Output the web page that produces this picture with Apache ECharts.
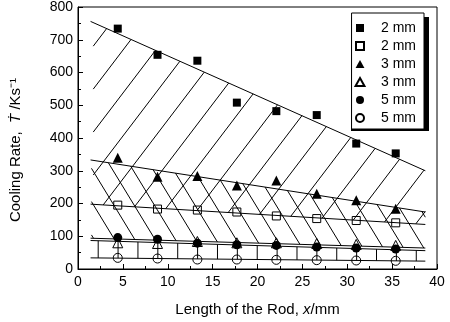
<!DOCTYPE html>
<html>
<head>
<meta charset="utf-8">
<script src="https://cdn.jsdelivr.net/npm/echarts@6/dist/echarts.min.js"></script>
<style>
  html, body { margin: 0; padding: 0; background: #fff; }
  #chart { width: 450px; height: 322px; }
</style>
</head>
<body>
<div id="chart"></div>
<script>
// rod length positions (mm)
const xPos = [4.43, 8.86, 13.3, 17.7, 22.1, 26.6, 31.0, 35.4];

// cooling rates, K/s
const sq2Filled = [734, 654, 636, 508, 482, 470, 383, 353];
const sq2Open = [195, 183, 180, 174, 162, 154, 148, 141];
const tri3Filled = [340, 282, 284, 255, 270, 230, 210, 184];
const tri3Open = [80, 78, 84, 80, 80, 78, 75, 72];
const cir5Filled = [96, 91, 79, 74, 72, 67, 64, 61];
const cir5Open = [34, 32, 29, 29, 28, 27, 26, 25];

const legendLabels = ['2 mm', '2 mm', '3 mm', '3 mm', '5 mm', '5 mm'];

// fitted trend lines, [start, end]
const fitSq2Filled = [[1.4, 756], [38.7, 300]];
const fitTri3Filled = [[1.4, 333], [38.7, 174]];
const fitSq2Open = [[1.4, 198], [38.7, 136]];
const fitCir5Filled = [[1.4, 94], [38.7, 64]];
const fitTri3Open = [[1.4, 87], [38.7, 56]];
const fitCir5Open = [[1.4, 34], [38.7, 24]];

function lineFn(seg) {
  const [[x0, y0], [x1, y1]] = seg;
  const m = (y1 - y0) / (x1 - x0);
  return { m, at: x => y0 + m * (x - x0) };
}

// slanted hatch strokes between two trend lines
function hatch(top, bottom, slope, anchors, onTop, xmin, xmax) {
  const T = lineFn(top), B = lineFn(bottom);
  const segs = [];
  anchors.forEach(xa => {
    const ya = onTop ? T.at(xa) : B.at(xa);
    const xt = xa + (T.at(xa) - ya) / (slope - T.m);
    const xb = xa + (B.at(xa) - ya) / (slope - B.m);
    const lo = Math.max(Math.min(xt, xb), xmin);
    const hi = Math.min(Math.max(xt, xb), xmax);
    if (lo >= hi) return;
    segs.push([lo, ya + slope * (lo - xa), hi, ya + slope * (hi - xa)]);
  });
  return segs;
}

const range = (a, step, n) => Array.from({ length: n }, (_, k) => a + step * k);

const hatchSlash = hatch(fitSq2Filled, fitSq2Open, 36, range(0.47, 2.72, 17), true, 1.7, 38.7);
const hatchBack = hatch(fitTri3Filled, fitCir5Filled, -45, range(-0.57, 2.3, 20), false, 1.5, 38.7);
const vt = lineFn(fitTri3Open), vb = lineFn(fitCir5Open);
const hatchVert = range(2.25, 2.215, 17).map(x => [x, vt.at(x), x, vb.at(x)]);

const chart = echarts.init(document.getElementById('chart'));
const font = 'Liberation Sans, Arial, sans-serif';

const openStyle = { color: 'rgba(0,0,0,0)', borderColor: '#000', borderWidth: 1, opacity: 1 };
const filledStyle = { color: '#000', opacity: 1 };

const SQ = 'path://M0,0H10V10H0Z';
const TRI = 'path://M5,0L10,9H0Z';

const scatterDefs = [
  { data: sq2Filled, symbol: 'rect', icon: SQ, size: 8, style: filledStyle },
  { data: sq2Open, symbol: 'rect', icon: SQ, size: 8, style: openStyle },
  { data: tri3Filled, symbol: 'triangle', icon: TRI, size: 10, style: filledStyle },
  { data: tri3Open, symbol: 'triangle', icon: TRI, size: 10, style: openStyle },
  { data: cir5Filled, symbol: 'circle', icon: 'circle', size: 9, style: filledStyle },
  { data: cir5Open, symbol: 'circle', icon: 'circle', size: 9, style: openStyle },
];

const scatterSeries = scatterDefs.map((d, i) => ({
  name: legendLabels[i] + '#' + i,
  type: 'scatter',
  symbol: d.symbol,
  symbolSize: d.size,
  itemStyle: d.style,
  z: 5,
  data: d.data.map((v, j) => [xPos[j], v]),
}));

const fitSeries = [fitSq2Filled, fitTri3Filled, fitSq2Open, fitCir5Filled, fitTri3Open, fitCir5Open]
  .map(seg => ({
    type: 'line',
    data: seg,
    symbol: 'none',
    lineStyle: { color: '#000', width: 1 },
    z: 3,
    silent: true,
  }));

const hatchSeries = {
  type: 'custom',
  clip: true,
  silent: true,
  z: 2,
  encode: { x: [0, 2], y: [1, 3] },
  data: hatchSlash.concat(hatchBack, hatchVert),
  renderItem: (params, api) => {
    const p0 = api.coord([api.value(0), api.value(1)]);
    const p1 = api.coord([api.value(2), api.value(3)]);
    return {
      type: 'line',
      shape: { x1: p0[0], y1: p0[1], x2: p1[0], y2: p1[1] },
      style: { stroke: '#000', lineWidth: 1 },
    };
  },
};

chart.setOption({
  backgroundColor: '#fff',
  animation: false,
  textStyle: { fontFamily: font },
  grid: { left: 77, right: 13, top: 7, bottom: 49, show: true, borderColor: '#000', borderWidth: 1 },
  // drop shadow behind the legend box
  graphic: [{
    type: 'rect', left: 351, top: 17, z: 0, zlevel: 0,
    shape: { width: 78, height: 114 },
    style: { fill: '#000' },
  }],
  legend: {
    right: 26, top: 13,
    orient: 'vertical',
    itemWidth: 32, itemHeight: 8, itemGap: 4,
    symbolKeepAspect: true,
    padding: [8, 8, 4, 3],
    backgroundColor: '#fff',
    borderColor: '#000', borderWidth: 1,
    z: 10,
    textStyle: { fontSize: 14, color: '#000', fontFamily: font, lineHeight: 14 },
    formatter: name => name.split('#')[0],
    data: scatterSeries.map((s, i) => ({ name: s.name, icon: scatterDefs[i].icon })),
  },
  xAxis: {
    type: 'value', min: 0, max: 40, interval: 5,
    name: 'Length of the Rod, {it|x}/mm',
    nameLocation: 'middle', nameGap: 33,
    nameTextStyle: { fontSize: 15, color: '#000', fontFamily: font,
      rich: { it: { fontSize: 15, fontStyle: 'italic', fontFamily: font, color: '#000' } } },
    axisLine: { lineStyle: { color: '#000' } },
    axisTick: { inside: true, length: 5, lineStyle: { color: '#000' } },
    minorTick: { show: true, splitNumber: 2, length: 3, lineStyle: { color: '#000' } },
    axisLabel: { fontSize: 14, color: '#000', margin: 6 },
    splitLine: { show: false },
  },
  yAxis: {
    type: 'value', min: 0, max: 800, interval: 100,
    name: 'Cooling Rate,  {it|Ṫ} /Ks⁻¹',
    nameLocation: 'middle', nameGap: 55,
    nameTextStyle: { fontSize: 15, color: '#000', fontFamily: font, padding: [0, 24, 0, 0],
      rich: { it: { fontSize: 15, fontStyle: 'italic', fontFamily: font, color: '#000' } } },
    axisLine: { show: true, lineStyle: { color: '#000' } },
    axisTick: { show: true, inside: true, length: 5, lineStyle: { color: '#000' } },
    minorTick: { show: true, splitNumber: 2, length: 3, lineStyle: { color: '#000' } },
    axisLabel: { fontSize: 14, color: '#000', margin: 5 },
    splitLine: { show: false },
  },
  series: [hatchSeries].concat(fitSeries, scatterSeries),
});
</script>
</body>
</html>
